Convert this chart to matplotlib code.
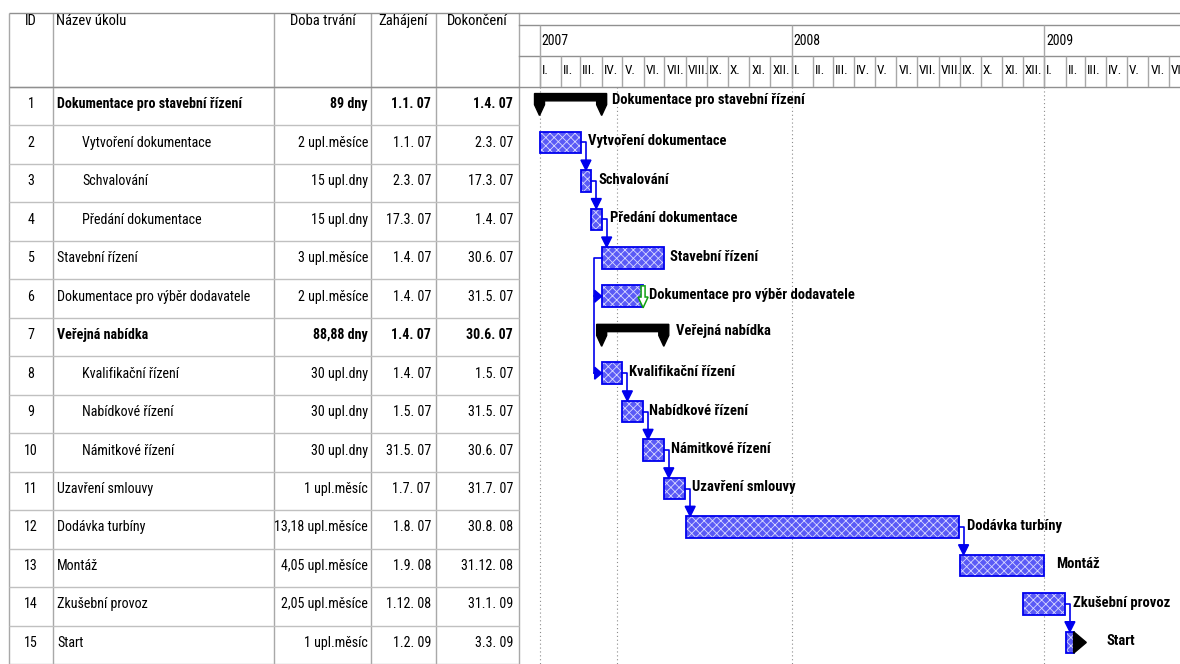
import datetime as dt
import matplotlib
matplotlib.use("Agg")
import matplotlib.pyplot as plt
import matplotlib.dates as mdates
from matplotlib import font_manager
from matplotlib.patches import Polygon

# úzké písmo jako v MS Project (pokud je k dispozici)
installed = {f.name for f in font_manager.fontManager.ttflist}
narrow_names = ["Liberation Sans Narrow", "Arial Narrow", "Roboto Condensed",
                "Open Sans Condensed", "Noto Sans Condensed", "DejaVu Sans Condensed",
                "Noto Sans Display Condensed"]
narrow = next((f for f in narrow_names if f in installed), None)
if narrow is None:
    narrow = "Liberation Sans"
    fscale = 0.86  # široké písmo -> zmenšit, aby se vešlo
else:
    fscale = 1.0
plt.rcParams["font.family"] = [narrow, "DejaVu Sans"]
plt.rcParams["hatch.linewidth"] = 0.6

# data úkolů
ids = list(range(1, 16))
names = ["Dokumentace pro stavební řízení", "Vytvoření dokumentace", "Schvalování",
         "Předání dokumentace", "Stavební řízení", "Dokumentace pro výběr dodavatele",
         "Veřejná nabídka", "Kvalifikační řízení", "Nabídkové řízení", "Námitkové řízení",
         "Uzavření smlouvy", "Dodávka turbíny", "Montáž", "Zkušební provoz", "Start"]
durations = ["89 dny", "2 upl.měsíce", "15 upl.dny", "15 upl.dny", "3 upl.měsíce",
             "2 upl.měsíce", "88,88 dny", "30 upl.dny", "30 upl.dny", "30 upl.dny",
             "1 upl.měsíc", "13,18 upl.měsíce", "4,05 upl.měsíce", "2,05 upl.měsíce",
             "1 upl.měsíc"]
starts = ["2007-01-01", "2007-01-01", "2007-03-02", "2007-03-17", "2007-04-01", "2007-04-01",
          "2007-04-01", "2007-04-01", "2007-05-01", "2007-05-31", "2007-07-01", "2007-08-01",
          "2008-09-01", "2008-12-01", "2009-02-01"]
finishes = ["2007-04-01", "2007-03-02", "2007-03-17", "2007-04-01", "2007-06-30", "2007-05-31",
            "2007-06-30", "2007-05-01", "2007-05-31", "2007-06-30", "2007-07-31", "2008-08-30",
            "2008-12-31", "2009-01-31", "2009-03-03"]
levels = [0, 1, 1, 1, 0, 0, 0, 1, 1, 1, 0, 0, 0, 0, 0]
summary_ids = [1, 7]
links_fs = [(2, 3), (3, 4), (4, 5), (8, 9), (9, 10), (10, 11), (11, 12), (12, 13), (14, 15)]
links_ss = [(5, [6, 8])]
deadlines = {6: "2007-05-31"}
gridline_dates = ["2007-01-01", "2007-04-23", "2008-01-01", "2009-01-01"]
roman = ["I.", "II.", "III.", "IV.", "V.", "VI.", "VII.", "VIII.", "IX.", "X.", "XI.", "XII."]
headers = ["ID", "Název úkolu", "Doba trvání", "Zahájení", "Dokončení"]

# styl / rozvržení (pixely)
W, H = 1180, 664
top_px, head_px, split_px = 12.7, 87, 519
col_x = [9, 53, 274, 371, 436, 519]
label_off = [10, 7, 7, 8, 6, 6, 12, 7, 6, 7, 7, 8, 13, 8, 20]
blue = "#0000ee"
grid_c = "#a8a8a8"
fs_tab = 10.1 * fscale
fs_lab = 10.5 * fscale
fs_head = 10.5 * fscale

n = len(names)
t0 = mdates.datestr2num(starts)
t1 = mdates.datestr2num(finishes)
x_lo = mdates.datestr2num("2006-12-02 07:00")
x_hi = mdates.datestr2num("2009-07-16 17:00")
row_px = (H - head_px) / n
dpp = (x_hi - x_lo) / (W - split_px)  # dny na pixel


def px_x(p):
    return p * dpp


def px_y(p):
    return p / row_px


def rect(x0, y0, x1, y1):
    return [x0 / W, 1 - y1 / H, (x1 - x0) / W, (y1 - y0) / H]


fig = plt.figure(figsize=(W / 100, H / 100), dpi=100)
ax_tab = fig.add_axes(rect(0, head_px, split_px, H))
ax_gan = fig.add_axes(rect(split_px, head_px, W, H), sharey=ax_tab)
ax_th = fig.add_axes(rect(0, top_px, split_px, head_px))
ax_gh = fig.add_axes(rect(split_px, top_px, W, head_px), sharex=ax_gan)
for ax in (ax_tab, ax_gan, ax_th, ax_gh):
    ax.set_axis_off()

ax_tab.set_xlim(0, split_px)
ax_tab.set_ylim(n + 0.5, 0.5)
ax_gan.set_xlim(x_lo, x_hi)
ax_th.set_xlim(0, split_px)
ax_th.set_ylim(head_px, top_px)
ax_gh.set_ylim(head_px, top_px)

# ---- tabulka ----
ax_th.vlines(col_x, top_px, head_px, color=grid_c, lw=1, clip_on=False)
ax_th.hlines([top_px, head_px], col_x[0], split_px, color="#909090", lw=1, clip_on=False)
head_pos = [(31, "center"), (56, "left"), (323, "center"), (403, "center"), (477, "center")]
for (hx, ha), txt in zip(head_pos, headers):
    ax_th.text(hx, 21, txt, ha=ha, va="center", fontsize=fs_head)

ax_tab.vlines(col_x, 0.5, n + 0.5, color=grid_c, lw=1, clip_on=False)
ax_tab.hlines([k + 0.5 for k in range(n + 1)], col_x[0], split_px, color="#c0c0c0", lw=1,
              clip_on=False)


def fmt(d):
    d = mdates.num2date(d)
    return f"{d.day}.{d.month}. {d.year % 100:02d}"


for i in range(n):
    y = ids[i] - 0.05
    bold = "bold" if ids[i] in summary_ids else "normal"
    ax_tab.text(31, y, str(ids[i]), ha="center", va="center", fontsize=fs_tab)
    ax_tab.text(57 + 25 * levels[i], y, names[i], ha="left", va="center", fontsize=fs_tab,
                fontweight=bold)
    ax_tab.text(368, y, durations[i], ha="right", va="center", fontsize=fs_tab,
                fontweight=bold)
    ax_tab.text(431, y, fmt(t0[i]), ha="right", va="center", fontsize=fs_tab,
                fontweight=bold)
    ax_tab.text(513, y, fmt(t1[i]), ha="right", va="center", fontsize=fs_tab,
                fontweight=bold)

# ---- časová osa ----
for yy in (top_px, 25, 56, head_px):
    ax_gh.axhline(yy, color="#909090", lw=1, clip_on=False)
years = [dt.datetime(y, 1, 1) for y in range(2006, 2011)]
months = [dt.datetime(2006 + k // 12, k % 12 + 1, 1) for k in range(11, 12 * 4)]
ax_gh.vlines(mdates.date2num(years), 25, head_px, color=grid_c, lw=1)
ax_gh.vlines(mdates.date2num(months), 56, head_px, color=grid_c, lw=1)
for y in years:
    ax_gh.annotate(str(y.year), (mdates.date2num(y), 41), xytext=(2, 0),
                   textcoords="offset pixels", ha="left", va="center",
                   fontsize=10 * fscale, annotation_clip=True)
for m in months:
    ax_gh.annotate(roman[m.month - 1], (mdates.date2num(m), 71), xytext=(2, 0),
                   textcoords="offset pixels", ha="left", va="center",
                   fontsize=9.5 * fscale, clip_on=True)

# ---- Ganttův diagram ----
ax_gan.vlines(mdates.datestr2num(gridline_dates), 0.5, n + 0.5, color="#8c8c8c", lw=0.8,
              linestyles=(0, (1, 2.5)), zorder=0)

bar_off, bar_h = -0.06, 0.56


def yc(tid):
    return tid + bar_off


task_idx = [i for i in range(n) if ids[i] not in summary_ids]
shown_end = [t1[i] if ids[i] != 15 else t0[i] + px_x(8) for i in task_idx]
ys = [yc(ids[i]) for i in task_idx]
lefts = [t0[i] for i in task_idx]
widths = [e - s for e, s in zip(shown_end, lefts)]
ax_gan.barh(ys, widths, left=lefts, height=bar_h, color="#5a5af6", edgecolor="#d8d8ff",
            hatch="xxxx", lw=0, zorder=3)
ax_gan.barh(ys, widths, left=lefts, height=bar_h, fill=False, edgecolor=blue, lw=1.3,
            zorder=4)

# koncový trojúhelník u úkolu Start
i15 = ids.index(15)
xe = t0[i15] + px_x(8)
ax_gan.add_patch(Polygon([(xe, yc(15) - bar_h / 2), (t1[i15], yc(15)),
                          (xe, yc(15) + bar_h / 2)], closed=True, color="black", zorder=4))

# souhrnné úkoly
cw = px_x(5)
for sid in summary_ids:
    i = ids.index(sid)
    xs, xe2, c = t0[i], t1[i], sid
    t, b, s, p = c - 0.33, c - 0.14, c - 0.04, c + 0.24
    ax_gan.add_patch(Polygon([(xs - cw, t), (xe2 + cw, t), (xe2 + cw, s), (xe2, p),
                              (xe2 - cw, s), (xe2 - cw, b), (xs + cw, b), (xs + cw, s),
                              (xs, p), (xs - cw, s)], closed=True, color="black", zorder=4))


# vazby konec-začátek
def tri_down(x, ytip):
    return Polygon([(x - px_x(5), ytip - px_y(10)), (x + px_x(5), ytip - px_y(10)),
                    (x, ytip)], closed=True, color=blue, zorder=5)


for a, b in links_fs:
    ia, ib = ids.index(a), ids.index(b)
    xa = t1[ia]
    xl = xa + px_x(5)
    ytip = yc(b) - bar_h / 2
    ax_gan.plot([xa, xl, xl], [yc(a), yc(a), ytip - px_y(9)], color=blue, lw=1.2, zorder=5)
    ax_gan.add_patch(tri_down(xl, ytip))

# vazby začátek-začátek
for a, succ in links_ss:
    ia = ids.index(a)
    xl = t0[ia] - px_x(8)
    last = max(succ)
    ax_gan.plot([t0[ia], xl, xl], [yc(a), yc(a), yc(last)], color=blue, lw=1.2, zorder=5)
    for b in succ:
        ib = ids.index(b)
        ax_gan.plot([xl, t0[ib]], [yc(b), yc(b)], color=blue, lw=1.2, zorder=5)
        ax_gan.add_patch(Polygon([(t0[ib] - px_x(7), yc(b) - px_y(6)),
                                  (t0[ib], yc(b)),
                                  (t0[ib] - px_x(7), yc(b) + px_y(6))],
                                 closed=True, color=blue, zorder=5))

# termíny (zelená šipka)
for tid, d in deadlines.items():
    x = mdates.datestr2num(d)
    c = yc(tid)
    ax_gan.add_patch(Polygon([(x - px_x(2), c - 0.27), (x + px_x(2), c - 0.27),
                              (x + px_x(2), c + 0.02), (x + px_x(5), c + 0.02),
                              (x, c + 0.3), (x - px_x(5), c + 0.02),
                              (x - px_x(2), c + 0.02)], closed=True, facecolor="white",
                             edgecolor="#10a010", lw=1.1, zorder=6))

# popisky
for i in range(n):
    y = ids[i] - 0.15 if ids[i] in summary_ids else yc(ids[i]) - 0.03
    ax_gan.annotate(names[i], (t1[i], y), xytext=(label_off[i], 0),
                    textcoords="offset pixels", ha="left", va="center", fontsize=fs_lab,
                    fontweight="bold", zorder=7)

fig.savefig("out.png", dpi=100)
